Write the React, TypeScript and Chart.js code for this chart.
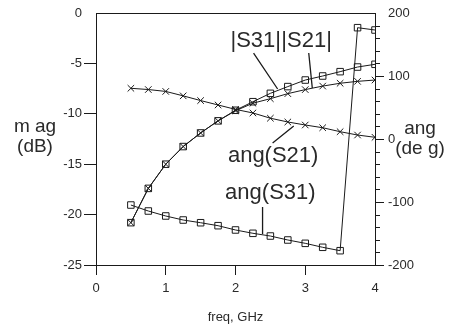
import React, { useEffect, useRef } from 'react';
import { Chart, registerables } from 'chart.js';

Chart.register(...registerables);

// ---- data ----
const freqGHz = [0.5, 0.75, 1.0, 1.25, 1.5, 1.75, 2.0, 2.25, 2.5, 2.75, 3.0, 3.25, 3.5, 3.75, 4.0];
const magS31 = [-20.8, -17.4, -15.0, -13.25, -11.9, -10.7, -9.65, -8.8, -7.97, -7.3, -6.65, -6.25, -5.82, -5.36, -5.09];
const magS21 = [-20.8, -17.4, -15.0, -13.25, -11.9, -10.7, -9.7, -8.95, -8.5, -8.0, -7.6, -7.25, -6.97, -6.78, -6.65];
const angS21 = [80.5, 78.5, 75.5, 68.5, 61, 54, 47, 41.3, 33, 27, 22.2, 17.9, 11.6, 6.3, 2.7];
const angS31 = [-104.8, -114.3, -122.2, -128.6, -132.9, -137.6, -144.4, -149.7, -154, -160.3, -165.6, -171.9, -177.3, 176.7, 173];

const freqTicks = [0, 1, 2, 3, 4];
const magTicks = [0, -5, -10, -15, -20, -25];
const angTicks = [200, 100, 0, -100, -200];

const seriesNames = ['|S31|', '|S21|', 'ang(S21)', 'ang(S31)'];

// annotation labels, anchored in data space (x: GHz, y: dB on left axis)
const labelPos = [
  { text: '|S31|', x: 2.29, y: -2.78 },
  { text: '|S21|', x: 3.02, y: -2.78 },
  { text: 'ang(S21)', x: 2.54, y: -14.15 },
  { text: 'ang(S31)', x: 2.5, y: -17.85 },
];
const leaders = [
  { x1: 2.259, y1: -3.97, x2: 2.604, y2: -7.54 },
  { x1: 3.05, y1: -3.97, x2: 3.101, y2: -7.44 },
  { x1: 2.532, y1: -12.9, x2: 2.835, y2: -11.21 },
  { x1: 2.388, y1: -19.25, x2: 2.388, y2: -21.92 },
];

const FONT = "'Liberation Sans', Arial, Helvetica, sans-serif";
const INK = '#1a1a1a';
const TXT = '#2a2a2a';
const CLEAR = 'rgba(0,0,0,0)';

const overlay = {
  id: 'overlay',
  afterDraw(chart: any) {
    const { ctx, chartArea, scales } = chart;
    const sx = scales.x, sy = scales.y, sy2 = scales.y2;
    ctx.save();
    ctx.strokeStyle = INK;
    ctx.lineWidth = 1;
    // top border of the box
    ctx.beginPath();
    const ty = Math.round(chartArea.top) + 0.5;
    ctx.moveTo(chartArea.left, ty);
    ctx.lineTo(chartArea.right, ty);
    ctx.stroke();
    // minor ticks on the right axis
    ctx.beginPath();
    for (let v = -180; v <= 180; v += 20) {
      if (v % 100 === 0) continue;
      const py = Math.round(sy2.getPixelForValue(v)) + 0.5;
      ctx.moveTo(chartArea.right, py);
      ctx.lineTo(chartArea.right + 5, py);
    }
    ctx.stroke();
    // leader lines
    ctx.lineWidth = 1.3;
    ctx.beginPath();
    leaders.forEach((l) => {
      ctx.moveTo(sx.getPixelForValue(l.x1), sy.getPixelForValue(l.y1));
      ctx.lineTo(sx.getPixelForValue(l.x2), sy.getPixelForValue(l.y2));
    });
    ctx.stroke();
    // labels
    ctx.fillStyle = TXT;
    ctx.textAlign = 'center';
    ctx.textBaseline = 'middle';
    ctx.font = `22px ${FONT}`;
    labelPos.forEach((p) => {
      ctx.fillText(p.text, sx.getPixelForValue(p.x), sy.getPixelForValue(p.y));
    });
    // axis titles (horizontal)
    ctx.font = `19px ${FONT}`;
    ctx.textBaseline = 'alphabetic';
    const lx = chartArea.left - 61;
    ctx.fillText('m ag', lx, 132);
    ctx.fillText('(dB)', lx, 152);
    const rx = chartArea.right + 45;
    ctx.fillText('ang', rx, 134);
    ctx.fillText('(de g)', rx, 154);
    ctx.restore();
  },
};

export default function App() {
  const ref = useRef<HTMLCanvasElement | null>(null);
  useEffect(() => {
    if (!ref.current) return;
    const mk = (vals: number[]) => freqGHz.map((f, i) => ({ x: f, y: vals[i] }));
    const base = {
      borderColor: INK,
      borderWidth: 1,
      pointRadius: 4.6,
      pointBorderWidth: 1,
      pointBorderColor: INK,
      pointBackgroundColor: CLEAR,
      tension: 0,
      fill: false,
    };
    const chart = new Chart(ref.current, {
      type: 'line',
      data: {
        datasets: [
          { ...base, label: seriesNames[0], data: mk(magS31), yAxisID: 'y', pointStyle: 'rect' },
          { ...base, label: seriesNames[1], data: mk(magS21), yAxisID: 'y', pointStyle: 'crossRot' },
          { ...base, label: seriesNames[2], data: mk(angS21), yAxisID: 'y2', pointStyle: 'crossRot' },
          { ...base, label: seriesNames[3], data: mk(angS31), yAxisID: 'y2', pointStyle: 'rect' },
        ],
      },
      options: {
        animation: false,
        responsive: false,
        events: [],
        layout: { padding: { top: 13, left: 0, right: 0, bottom: 0 } },
        plugins: { legend: { display: false }, tooltip: { enabled: false } },
        scales: {
          x: {
            type: 'linear',
            min: 0,
            max: 4,
            afterFit: (s: any) => { s.height = 63; },
            afterBuildTicks: (s: any) => { s.ticks = freqTicks.map((v) => ({ value: v })); },
            ticks: { color: TXT, font: { family: FONT, size: 13 }, padding: 6, maxRotation: 0 },
            grid: {
              drawOnChartArea: false,
              tickLength: 10,
              tickWidth: 1,
              tickColor: (c: any) => (c.tick && c.tick.value === 4 ? CLEAR : INK),
            },
            border: { display: true, color: INK, width: 1 },
            title: { display: true, text: 'freq, GHz', color: TXT, font: { family: FONT, size: 13 }, padding: { top: 0, bottom: 3 } },
          },
          y: {
            type: 'linear',
            position: 'left',
            min: -25,
            max: 0,
            afterFit: (s: any) => { s.width = 96; },
            afterBuildTicks: (s: any) => { s.ticks = magTicks.map((v) => ({ value: v })); },
            ticks: { color: TXT, font: { family: FONT, size: 13 }, padding: 2 },
            grid: {
              drawOnChartArea: false,
              tickLength: 12,
              tickWidth: 1,
              tickColor: (c: any) => (c.tick && c.tick.value === 0 ? CLEAR : INK),
            },
            border: { display: true, color: INK, width: 1 },
          },
          y2: {
            type: 'linear',
            position: 'right',
            min: -200,
            max: 200,
            afterFit: (s: any) => { s.width = 75; },
            afterBuildTicks: (s: any) => { s.ticks = angTicks.map((v) => ({ value: v })); },
            ticks: { color: TXT, font: { family: FONT, size: 13 }, padding: 4 },
            grid: {
              drawOnChartArea: false,
              tickLength: 9,
              tickWidth: 1,
              tickColor: (c: any) => (c.tick && c.tick.value === 200 ? CLEAR : INK),
            },
            border: { display: true, color: INK, width: 1 },
          },
        },
      },
      plugins: [overlay],
    } as any);
    return () => chart.destroy();
  }, []);
  return (
    <div style={{ position: 'fixed', left: 0, top: 0, width: 450, height: 328, background: '#fff' }}>
      <canvas ref={ref} width={450} height={328} style={{ display: 'block', width: 450, height: 328 }} />
    </div>
  );
}
